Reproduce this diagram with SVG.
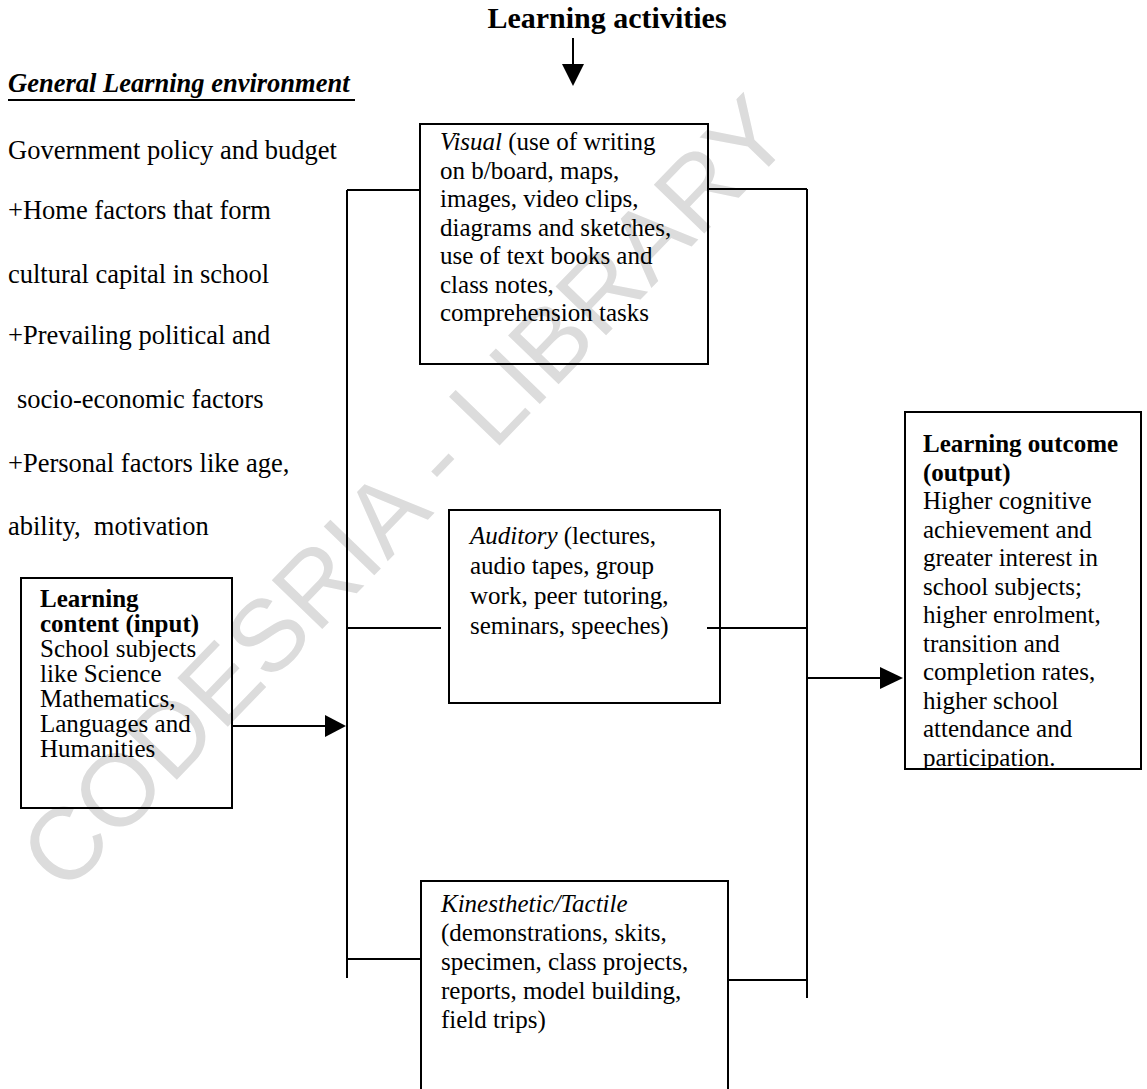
<svg xmlns="http://www.w3.org/2000/svg" width="1147" height="1089" viewBox="0 0 1147 1089">
<style>
.t{font-family:"Liberation Serif","Times New Roman",serif;fill:#000}
.env{font-size:26.5px}
.bx{font-size:25px}
.b{font-weight:bold}
.i{font-style:italic}
.box{fill:none;stroke:#000;stroke-width:2}
.ln{fill:none;stroke:#000;stroke-width:2}
.wm{font-family:"Liberation Sans",Arial,sans-serif;font-size:102px;fill:#dcdcdc}
</style>
<defs>
<clipPath id="outClip"><rect x="905" y="412" width="236" height="357"/></clipPath>
</defs>
<rect width="1147" height="1089" fill="#fff"/>
<text class="wm" x="405" y="528" text-anchor="middle" transform="rotate(-46 405 493)">CODESRIA - LIBRARY</text>

<g id="title">
<text class="t b" x="607" y="28" font-size="30" text-anchor="middle">Learning activities</text>
</g>

<g id="environment">
<text class="t b i" x="8" y="92" font-size="26.5">General Learning environment</text>
<line class="ln" x1="8" y1="100" x2="355" y2="100"/>
<text class="t env" x="8" y="159">Government policy and budget</text>
<text class="t env" x="8" y="219">+Home factors that form</text>
<text class="t env" x="8" y="283">cultural capital in school</text>
<text class="t env" x="8" y="344">+Prevailing political and</text>
<text class="t env" x="17" y="408">socio-economic factors</text>
<text class="t env" x="8" y="472">+Personal factors like age,</text>
<text class="t env" x="8" y="535" style="white-space:pre">ability,  motivation</text>
</g>

<g id="input">
<rect class="box" x="21" y="578" width="211" height="230"/>
<text class="t bx b" x="40" y="607">Learning</text>
<text class="t bx b" x="40" y="632">content (input)</text>
<text class="t bx" x="40" y="657">School subjects</text>
<text class="t bx" x="40" y="682">like Science</text>
<text class="t bx" x="40" y="707">Mathematics,</text>
<text class="t bx" x="40" y="732">Languages and</text>
<text class="t bx" x="40" y="757">Humanities</text>
</g>

<g id="visual">
<rect class="box" x="420" y="124" width="288" height="240"/>
<text class="t bx" x="440" y="150"><tspan class="i">Visual</tspan> (use of writing</text>
<text class="t bx" x="440" y="178.5">on b/board, maps,</text>
<text class="t bx" x="440" y="207">images, video clips,</text>
<text class="t bx" x="440" y="235.5">diagrams and sketches,</text>
<text class="t bx" x="440" y="264">use of text books and</text>
<text class="t bx" x="440" y="292.5">class notes,</text>
<text class="t bx" x="440" y="321">comprehension tasks</text>
</g>

<g id="auditory">
<rect class="box" x="449" y="510" width="271" height="193"/>
<text class="t bx" x="470" y="544"><tspan class="i">Auditory</tspan> (lectures,</text>
<text class="t bx" x="470" y="574">audio tapes, group</text>
<text class="t bx" x="470" y="604">work, peer tutoring,</text>
<text class="t bx" x="470" y="634">seminars, speeches)</text>
</g>

<g id="kinesthetic">
<rect class="box" x="421" y="881" width="307" height="230"/>
<text class="t bx i" x="441" y="912">Kinesthetic/Tactile</text>
<text class="t bx" x="441" y="941">(demonstrations, skits,</text>
<text class="t bx" x="441" y="970">specimen, class projects,</text>
<text class="t bx" x="441" y="999">reports, model building,</text>
<text class="t bx" x="441" y="1028">field trips)</text>
</g>

<g id="output">
<rect class="box" x="905" y="412" width="236" height="357"/>
<g clip-path="url(#outClip)">
<text class="t bx b" x="923" y="452">Learning outcome</text>
<text class="t bx b" x="923" y="480.5">(output)</text>
<text class="t bx" x="923" y="509">Higher cognitive</text>
<text class="t bx" x="923" y="537.5">achievement and</text>
<text class="t bx" x="923" y="566">greater interest in</text>
<text class="t bx" x="923" y="594.5">school subjects;</text>
<text class="t bx" x="923" y="623">higher enrolment,</text>
<text class="t bx" x="923" y="651.5">transition and</text>
<text class="t bx" x="923" y="680">completion rates,</text>
<text class="t bx" x="923" y="708.5">higher school</text>
<text class="t bx" x="923" y="737">attendance and</text>
<text class="t bx" x="923" y="765.5">participation.</text>
</g>
</g>

<g id="connectors">
<line class="ln" x1="573" y1="38" x2="573" y2="66"/>
<polygon points="562,64 584,64 573,86" fill="#000"/>
<line class="ln" x1="347" y1="190" x2="347" y2="978"/>
<line class="ln" x1="347" y1="190" x2="420" y2="190"/>
<line class="ln" x1="347" y1="628" x2="441" y2="628"/>
<line class="ln" x1="347" y1="959" x2="421" y2="959"/>
<line class="ln" x1="232" y1="726" x2="328" y2="726"/>
<polygon points="325,715 325,737 346,726" fill="#000"/>
<line class="ln" x1="807" y1="189" x2="807" y2="998"/>
<line class="ln" x1="708" y1="189" x2="807" y2="189"/>
<line class="ln" x1="707" y1="628" x2="807" y2="628"/>
<line class="ln" x1="728" y1="980" x2="807" y2="980"/>
<line class="ln" x1="807" y1="678" x2="884" y2="678"/>
<polygon points="880,667 880,689 903,678" fill="#000"/>
</g>
</svg>
